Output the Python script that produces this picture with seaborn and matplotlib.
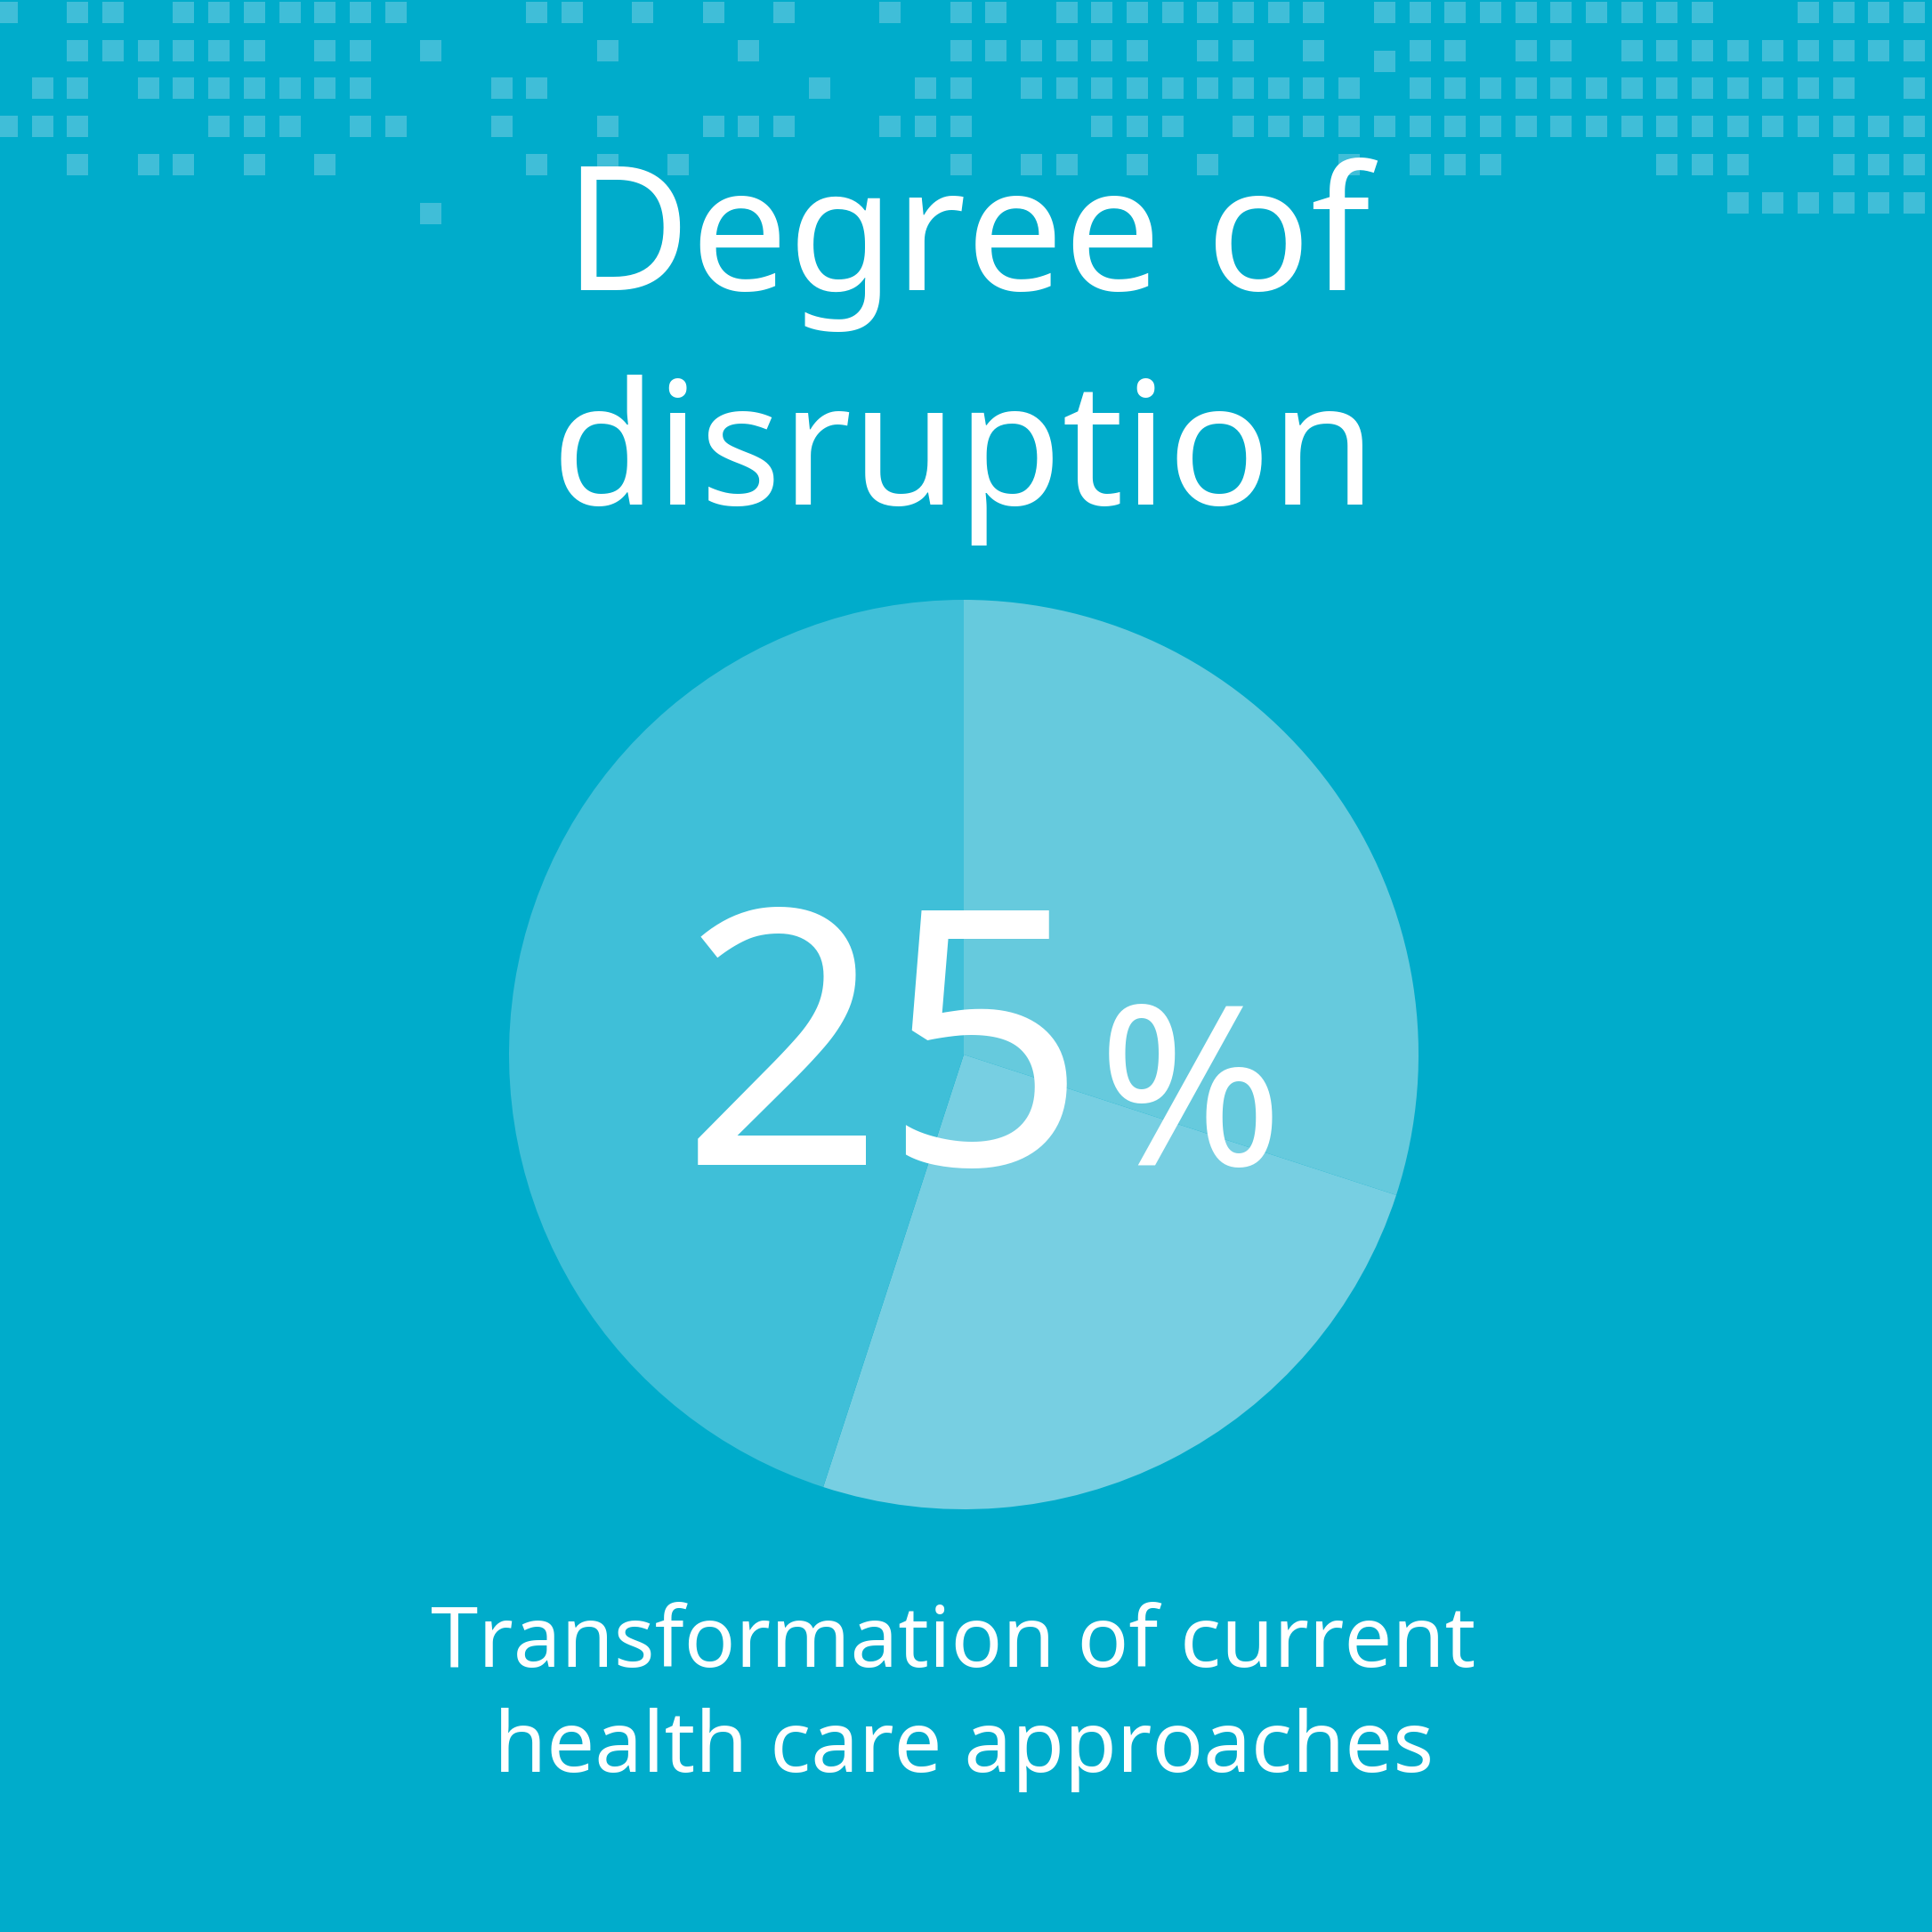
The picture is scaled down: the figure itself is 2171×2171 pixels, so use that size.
import matplotlib
matplotlib.use("Agg")
import matplotlib.pyplot as plt
from matplotlib.path import Path
import seaborn as sns
import pandas as pd

# pie shares, clockwise from 12 o'clock
SLICE_LABELS = ["Fundamental", "Transformation", "Incremental"]
SLICE_VALUES = [30, 25, 45]
SLICE_COLORS = ["#66CADD", "#77CFE2", "#3FBFD8"]

TITLE_LINES = ["Degree of", "disruption"]
CAPTION_LINES = ["Transformation of current", "health care approaches"]
BIG_NUMBER = "25"

BACKGROUND = "#00ACCB"
SQUARE_COLOR = "#40BED8"

# dot map at the top: which grid columns are filled in each row
ROW_0 = [0, 2, 3, 5, 6, 7, 8, 9, 10, 11, 15, 16, 18, 20, 22, 25, 27, 28, 30, 31, 32, 33, 34, 35, 36, 37,
         39, 40, 41, 42, 43, 44, 45, 46, 47, 48, 51, 52, 53, 54]
ROW_1 = [2, 3, 4, 5, 6, 7, 9, 10, 12, 17, 21, 27, 28, 29, 30, 31, 32, 34, 35, 37, 40, 41, 43, 44,
         46, 47, 48, 49, 50, 51, 52, 53, 54]
ROW_2 = [1, 2, 4, 5, 6, 7, 8, 9, 10, 14, 15, 23, 26, 27, 29, 30, 31, 32, 33, 34, 35, 36, 37, 38,
         40, 41, 42, 43, 44, 45, 46, 47, 48, 49, 50, 51, 52, 54]
ROW_3 = [0, 1, 2, 6, 7, 8, 10, 11, 14, 17, 20, 21, 22, 25, 26, 27, 31, 32, 33, 35, 36, 37, 38, 39,
         40, 41, 42, 43, 44, 45, 46, 47, 48, 49, 50, 51, 52, 53, 54]
ROW_4 = [2, 4, 5, 7, 9, 15, 17, 19, 27, 29, 30, 32, 34, 38, 40, 41, 42, 47, 48, 49, 52, 53, 54]
ROW_5 = [49, 50, 51, 52, 53, 54]
# two squares sit off the grid rows
STRAY_COLS = [12, 39]
STRAY_ROWS = [5.28, 1.30]

sns.set_theme(style="white")
plt.rcParams["font.family"] = ["Noto Sans", "DejaVu Sans"]

fig = plt.figure(figsize=(10.855, 10.855), dpi=200, facecolor=BACKGROUND)

# dot map, axes units are grid columns and rows
map_ax = fig.add_axes([0, 0, 1, 1], facecolor=BACKGROUND)
cols, rows = [], []
for r, row_cols in enumerate([ROW_0, ROW_1, ROW_2, ROW_3, ROW_4, ROW_5]):
    cols += row_cols
    rows += [r] * len(row_cols)
cells = pd.DataFrame({"col": cols + STRAY_COLS, "row": rows + STRAY_ROWS})
cell_marker = Path([(-1, -1), (1, -1), (1, 1), (-1, 1), (-1, -1)], closed=True)
sns.scatterplot(data=cells, x="col", y="row", marker=cell_marker, s=78, color=SQUARE_COLOR,
                linewidth=0, ax=map_ax, legend=False)
map_ax.set_xlim(-0.203, 54.5)
map_ax.set_ylim(50.4, -0.322)
map_ax.axis("off")

# pie, centre at about (1083, 1185) px and radius 511 px
size = 2171
pie_ax = fig.add_axes([(1083 - 511) / size, 1 - (1185 + 511) / size, 1022 / size, 1022 / size])
pie_ax.pie(SLICE_VALUES, colors=SLICE_COLORS, startangle=90, counterclock=False, radius=1.0,
           wedgeprops={"linewidth": 0})
pie_ax.set_xlim(-1, 1)
pie_ax.set_ylim(-1, 1)
pie_ax.patch.set_alpha(0)

# text
fig.text(1087 / size, 1 - 326 / size, TITLE_LINES[0], color="white", fontsize=70, ha="center", va="baseline")
fig.text(1083 / size, 1 - 567 / size, TITLE_LINES[1], color="white", fontsize=69, ha="center", va="baseline")
fig.text(994 / size, 1 - 1309 / size, BIG_NUMBER, color="white", fontsize=144, ha="center", va="baseline")
fig.text(1338 / size, 1 - 1309 / size, "%", color="white", fontsize=90, ha="center", va="baseline")
fig.text(1071 / size, 1 - 1873 / size, CAPTION_LINES[0], color="white", fontsize=34.5, ha="center", va="baseline")
fig.text(1083 / size, 1 - 1991 / size, CAPTION_LINES[1], color="white", fontsize=34.5, ha="center", va="baseline")

fig.savefig("out.png", dpi=200, facecolor=BACKGROUND)
